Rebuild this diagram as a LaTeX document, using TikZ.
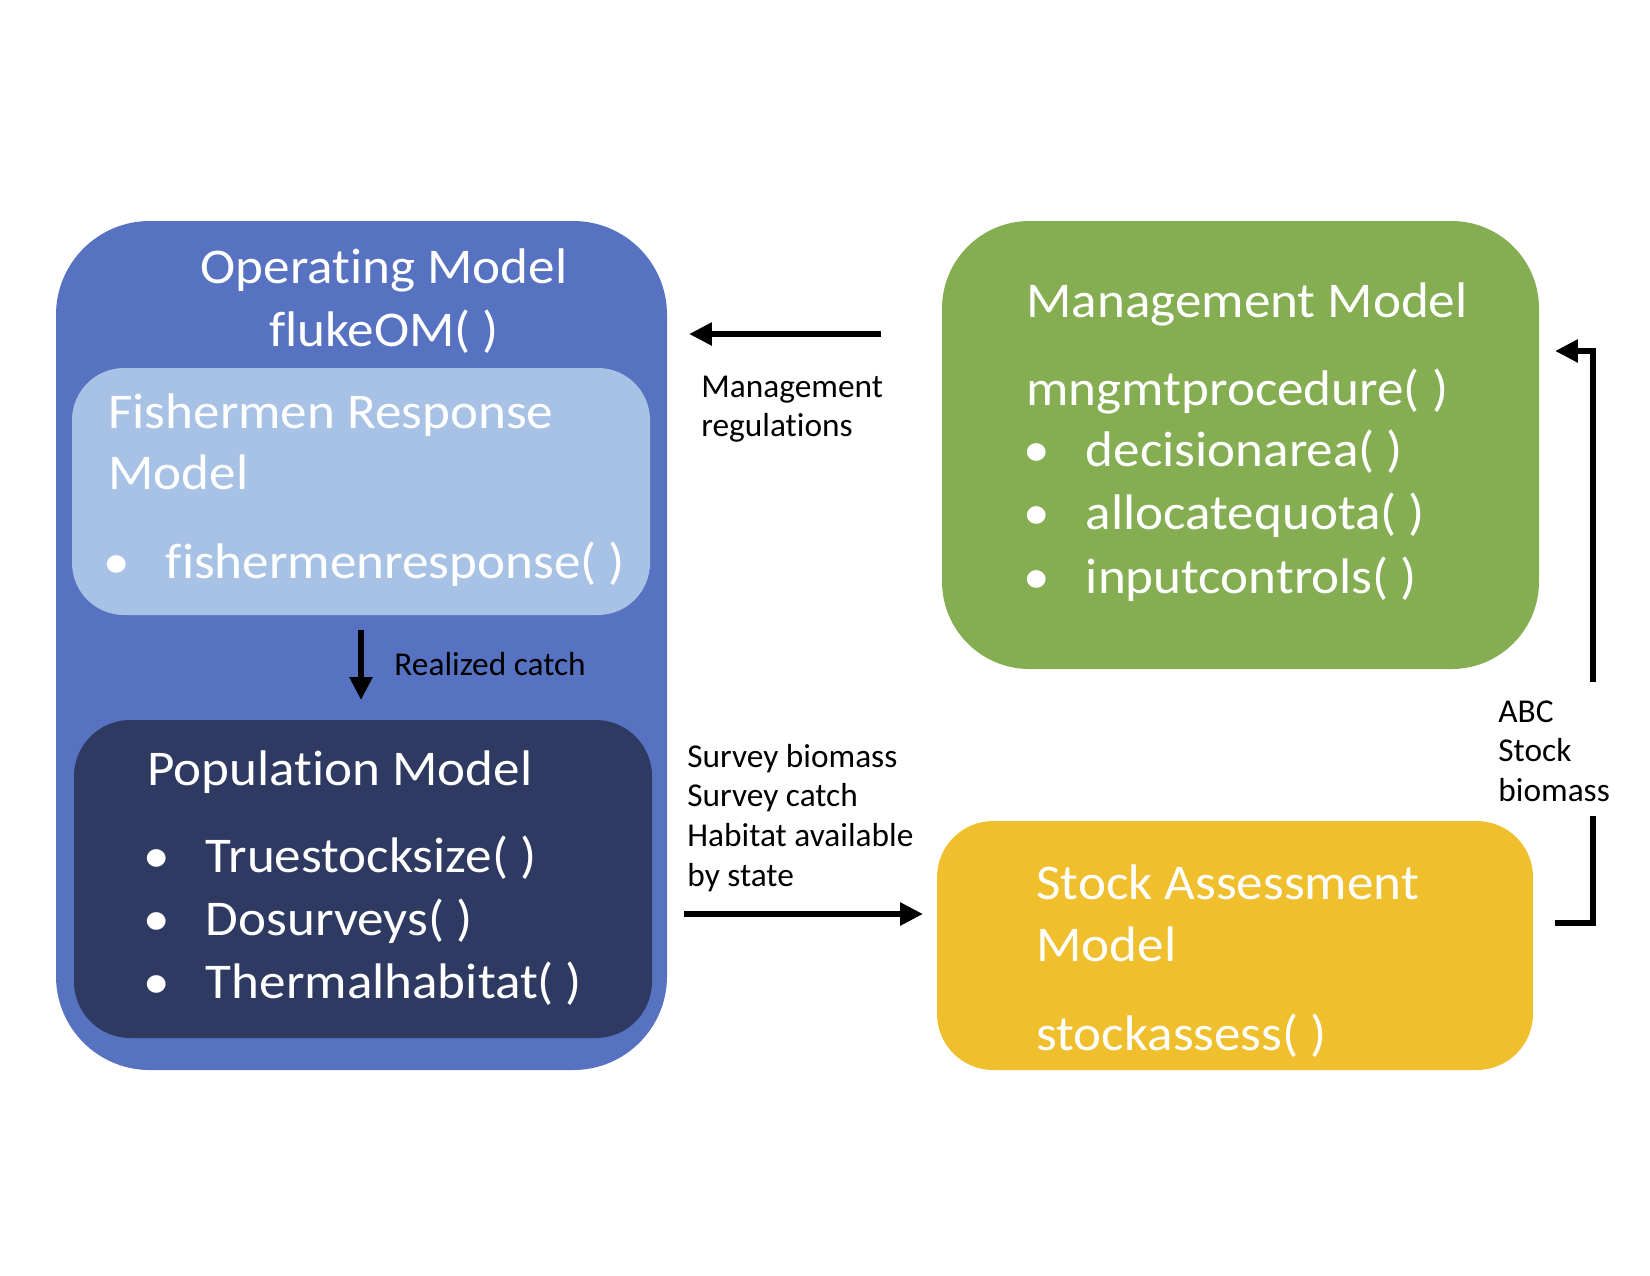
\documentclass[tikz,border=0pt]{standalone}
\usepackage{fontspec}
\setmainfont{Carlito}[Ligatures=NoCommon]
\newfontfamily\boxfont{Carlito}[FakeStretch=1.062, Ligatures=NoCommon]
\usetikzlibrary{arrows.meta,fit}

\definecolor{omblue}{RGB}{86,114,192}
\definecolor{frblue}{RGB}{168,194,230}
\definecolor{popnavy}{RGB}{46,58,98}
\definecolor{mmgreen}{RGB}{133,173,82}
\definecolor{sayellow}{RGB}{239,191,46}

\newcommand{\itm}[1]{\makebox[30pt][l]{\textbullet}#1}

\begin{document}
\begin{tikzpicture}
  [
    x=0.48pt, y=-0.48pt,
    box/.style =
      {rounded corners=#1, inner sep=0pt, outer sep=0pt},
    big/.style =
      {font=\boxfont\fontsize{24}{29}\selectfont, text=white, inner sep=0pt, anchor=base west},
    small/.style =
      {font=\fontsize{16}{19}\selectfont, inner sep=0pt, anchor=base west},
    sarrow/.style =
      {->, >={Triangle[length=11pt,width=10.5pt]}, line width=2.8pt}
  ]
  \useasboundingbox (0,0) rectangle (1650,1275);

  % boxes
  \node [box=45pt, fill=omblue,   fit={(56,221) (667,1070)}]  (om)  {};
  \node [box=25pt, fill=frblue,   fit={(72,368) (650,615)}]   (fr)  {};
  \node [box=27pt, fill=popnavy,  fit={(74,720) (652,1038)}]  (pop) {};
  \node [box=42pt, fill=mmgreen,  fit={(942,221) (1539,669)}] (mm)  {};
  \node [box=27pt, fill=sayellow, fit={(937,821) (1533,1070)}] (sa) {};

  % operating model
  \node [big, anchor=base] at (384,283) (omtitle) {Operating Model};
  \node [big, anchor=base] at (384,346) (omfun)   {flukeOM( )};

  \node [big] at (108,428) (frtitle) {Fishermen Response};
  \node [big] at (108,489) (frmodel) {Model};
  \node [big] at (103,578) (frfun)   {\itm{fishermenresponse( )}};

  \node [big] at (147,785) (poptitle) {Population Model};
  \foreach \f [count=\i from 0] in {Truestocksize, Dosurveys, Thermalhabitat}
    \node [big] at (143,872+63*\i) (popfun\i) {\itm{\f( )}};

  % management model
  \node [big] at (1026,317) (mmtitle) {Management Model};
  \node [big] at (1026,405) (mmfun)   {mngmtprocedure( )};
  \foreach \f [count=\i from 0] in {decisionarea, allocatequota, inputcontrols}
    \node [big] at (1023,466+63.5*\i) (mmsub\i) {\itm{\f( )}};

  % stock assessment
  \node [big] at (1036,899)  (satitle) {Stock Assessment};
  \node [big] at (1036,961)  (samodel) {Model};
  \node [big] at (1036,1050) (safun)   {stockassess( )};

  % labels
  \node [small] at (394,675) (rc)  {Realized catch};
  \node [small] at (701,397) (mr1) {Management};
  \node [small] at (701,436) (mr2) {regulations};
  \foreach \l [count=\i from 0] in {Survey biomass, Survey catch, Habitat available, by state}
    \node [small] at (687,767+39.7*\i) (sv\i) {\l};
  \foreach \l [count=\i from 0] in {ABC, Stock, biomass}
    \node [small] at (1498,722+39.5*\i) (abc\i) {\l};

  % connectors
  \coordinate (mrfrom) at (881,334);
  \coordinate (mrto)   at (689,334);
  \coordinate (rcfrom) at (361,630);
  \coordinate (rcto)   at (361,700);
  \coordinate (svfrom) at (684,914);
  \coordinate (svto)   at (923,914);
  \coordinate (abcfrom) at (1593,682);
  \coordinate (abcto)   at (1555,351);
  \coordinate (sastart) at (1555,923);
  \coordinate (saend)   at (1593,816);

  \draw [sarrow] (mrfrom) -- (mrto);
  \draw [sarrow] (rcfrom) -- (rcto);
  \draw [sarrow] (svfrom) -- (svto);
  \draw [sarrow] (abcfrom) |- (abcto);
  \draw [line width=2.8pt] (sastart) -| (saend);
\end{tikzpicture}
\end{document}
